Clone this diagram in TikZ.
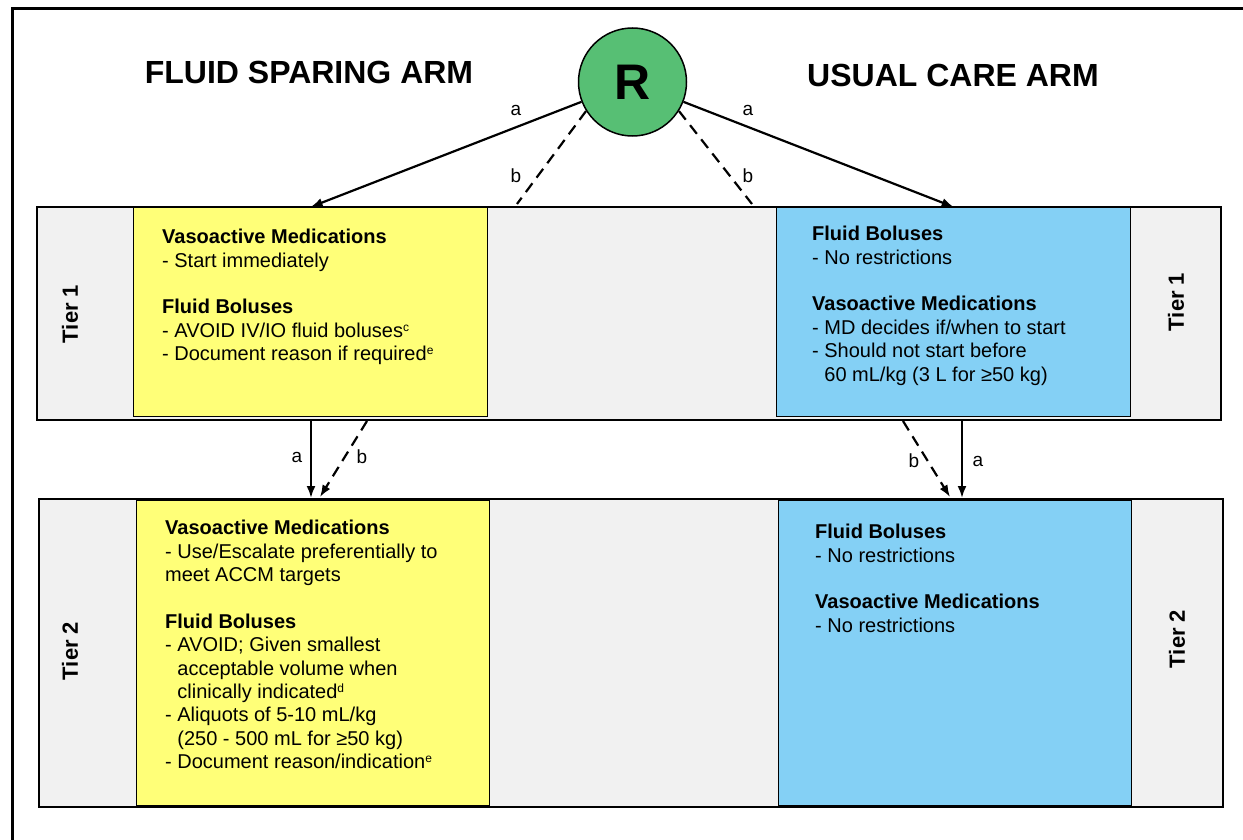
\documentclass[tikz,border=0pt]{standalone}
\usepackage{fontspec}
\setmainfont{Liberation Sans}
\usetikzlibrary{arrows.meta}
\definecolor{ybox}{HTML}{FFFF78}
\definecolor{bbox}{HTML}{84D0F5}
\definecolor{rowgray}{HTML}{F1F1F1}
\definecolor{rgreen}{HTML}{57BF74}
\newcommand{\supx}[1]{\raisebox{6pt}{\fontsize{12}{12}\selectfont #1}}
\begin{document}
\begin{tikzpicture}[x=1pt,y=-1pt,
  rowbox/.style={draw=black, line width=2pt, fill=rowgray, inner sep=0pt, anchor=north west},
  ycell/.style={draw=black, line width=1.3pt, fill=ybox, inner sep=0pt, anchor=north west},
  bcell/.style={draw=black, line width=1.3pt, fill=bbox, inner sep=0pt, anchor=north west},
  body/.style={anchor=north west, align=left, inner sep=0pt, font=\fontsize{20}{23.4}\selectfont},
  tierlbl/.style={rotate=90, inner sep=0pt, font=\fontsize{22}{22}\bfseries\selectfont},
  armtitle/.style={inner sep=0pt, font=\fontsize{32}{32}\bfseries\selectfont},
  lbl/.style={inner sep=0pt, font=\fontsize{19}{19}\selectfont},
  arr/.style={line width=2.2pt, -{Latex[length=12pt,width=9pt]}},
  dsh/.style={line width=2.2pt, dash pattern=on 11pt off 7pt},
  darr/.style={dsh, -{Latex[length=12pt,width=9pt]}}
]
\useasboundingbox (0,0) rectangle (1243,840);
\fill[white] (0,0) rectangle (1243,840);

% outer frame (partially visible)
\coordinate (fbl) at (12,840);
\coordinate (ftl) at (12,9);
\coordinate (ftr) at (1243,9);
\draw[line width=3pt] (fbl) -- (ftl) -- (ftr);

% rows
\node[rowbox, minimum width=1184pt, minimum height=213pt] (row1) at (36,206) {};
\node[rowbox, minimum width=1184pt, minimum height=308pt] (row2) at (38,498) {};

% cells
\node[ycell, minimum width=354pt, minimum height=209pt] (y1) at (133,207) {};
\node[bcell, minimum width=354pt, minimum height=209pt] (b1) at (776,207) {};
\node[ycell, minimum width=353pt, minimum height=305pt] (y2) at (136,499.5) {};
\node[bcell, minimum width=353pt, minimum height=305pt] (b2) at (778,499.5) {};

% tier labels
\node[tierlbl] (t1l) at (70,314) {Tier 1};
\node[tierlbl] (t1r) at (1176,302) {Tier 1};
\node[tierlbl] (t2l) at (70,651) {Tier 2};
\node[tierlbl] (t2r) at (1177,639) {Tier 2};

% titles
\node[armtitle] (fsa) at (309,72) {FLUID SPARING ARM};
\node[armtitle] (uca) at (953,75) {USUAL CARE ARM};

% R
\node[circle, draw=black, line width=1.5pt, fill=rgreen, minimum size=108pt, inner sep=0pt,
      font=\fontsize{50}{50}\bfseries\selectfont] (R) at (632.5,82) {R};

% texts
\node[body] (ty1) at (162,229) {\textbf{Vasoactive Medications}\\
- Start immediately\\[23.4pt]
\textbf{Fluid Boluses}\\
- AVOID IV/IO fluid boluses\supx{c}\\
- Document reason if required\supx{e}};

\node[body] (tb1) at (812,226) {\textbf{Fluid Boluses}\\
- No restrictions\\[23.4pt]
\textbf{Vasoactive Medications}\\
- MD decides if/when to start\\
- Should not start before\\
\hphantom{-\ }60 mL/kg (3 L for ≥50 kg)};

\node[body] (ty2) at (165,520) {\textbf{Vasoactive Medications}\\
- Use/Escalate preferentially to\\
meet ACCM targets\\[23.4pt]
\textbf{Fluid Boluses}\\
- AVOID; Given smallest\\
\hphantom{-\ }acceptable volume when\\
\hphantom{-\ }clinically indicated\supx{d}\\
- Aliquots of 5-10 mL/kg\\
\hphantom{-\ }(250 - 500 mL for ≥50 kg)\\
- Document reason/indication\supx{e}};

\node[body] (tb2) at (815,524) {\textbf{Fluid Boluses}\\
- No restrictions\\[23.4pt]
\textbf{Vasoactive Medications}\\
- No restrictions};

% connectors from R
\coordinate (bl) at (517,204);
\coordinate (br) at (752,204);
\draw[arr] (R) -- (y1.north);
\draw[arr] (R) -- (b1.north);
\draw[dsh] (R.212) -- (bl);
\draw[dsh] (R.328) -- (br);
\node[lbl] (la1) at (516,110) {a};
\node[lbl] (lb1) at (516,176) {b};
\node[lbl] (la2) at (748,110) {a};
\node[lbl] (lb2) at (748,176) {b};

% connectors tier 1 -> tier 2
\coordinate (las) at (311,419);
\coordinate (lae) at (311,498);
\coordinate (lbs) at (367,421);
\coordinate (lbe) at (320,497);
\coordinate (rbs) at (903,421);
\coordinate (rbe) at (950,497);
\coordinate (ras) at (962,419);
\coordinate (rae) at (962,498);
\draw[arr] (las) -- (lae);
\draw[darr] (lbs) -- (lbe);
\draw[darr] (rbs) -- (rbe);
\draw[arr] (ras) -- (rae);
\node[lbl] (la3) at (297,457) {a};
\node[lbl] (lb3) at (362,457) {b};
\node[lbl] (lb4) at (914,461) {b};
\node[lbl] (la4) at (978,461) {a};
\end{tikzpicture}
\end{document}
